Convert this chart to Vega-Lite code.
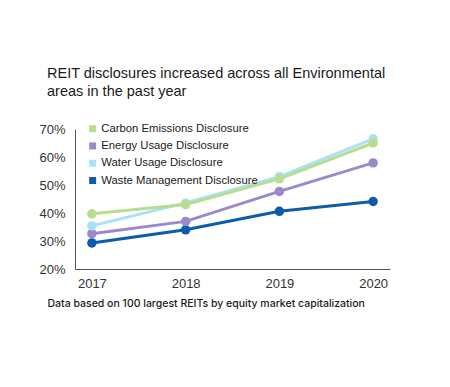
{
  "$schema": "https://vega.github.io/schema/vega-lite/v6.json",
  "width": 315,
  "height": 140,
  "autosize": {"type": "none"},
  "padding": {"left": 75, "top": 129, "right": 60, "bottom": 118},
  "background": "#ffffff",
  "title": {
    "text": ["REIT disclosures increased across all Environmental", "areas in the past year"],
    "anchor": "start",
    "frame": "group",
    "dx": -28,
    "offset": 24,
    "font": "Liberation Sans",
    "fontSize": 14.5,
    "fontWeight": "normal",
    "lineHeight": 18,
    "color": "#1a1a1a"
  },
  "data": {
    "values": [
      {"year": "2017", "series": "Waste Management Disclosure", "pct": 29.3},
      {"year": "2018", "series": "Waste Management Disclosure", "pct": 34.0},
      {"year": "2019", "series": "Waste Management Disclosure", "pct": 40.6},
      {"year": "2020", "series": "Waste Management Disclosure", "pct": 44.1},
      {"year": "2017", "series": "Energy Usage Disclosure", "pct": 32.6},
      {"year": "2018", "series": "Energy Usage Disclosure", "pct": 37.0},
      {"year": "2019", "series": "Energy Usage Disclosure", "pct": 47.7},
      {"year": "2020", "series": "Energy Usage Disclosure", "pct": 57.9},
      {"year": "2017", "series": "Water Usage Disclosure", "pct": 35.4},
      {"year": "2018", "series": "Water Usage Disclosure", "pct": 43.6},
      {"year": "2019", "series": "Water Usage Disclosure", "pct": 53.0},
      {"year": "2020", "series": "Water Usage Disclosure", "pct": 66.5},
      {"year": "2017", "series": "Carbon Emissions Disclosure", "pct": 39.7},
      {"year": "2018", "series": "Carbon Emissions Disclosure", "pct": 43.0},
      {"year": "2019", "series": "Carbon Emissions Disclosure", "pct": 52.2},
      {"year": "2020", "series": "Carbon Emissions Disclosure", "pct": 65.0}
    ]
  },
  "encoding": {
    "x": {
      "field": "year",
      "type": "ordinal",
      "scale": {"type": "point", "padding": 0.18},
      "axis": {
        "title": "Data based on 100 largest REITs by equity market capitalization",
        "titleAnchor": "start",
        "titleAlign": "left",
        "titleX": -28,
        "titleY": 29,
        "titleFont": "Inter",
        "titleFontSize": 10.5,
        "titleFontWeight": 500,
        "titleColor": "#1a1a1a",
        "labelAngle": 0,
        "labelFont": "Liberation Sans",
        "labelFontSize": 13,
        "labelColor": "#333333",
        "labelPadding": 8,
        "ticks": false,
        "domainColor": "#555555",
        "domainWidth": 1,
        "grid": false
      }
    },
    "y": {
      "field": "pct",
      "type": "quantitative",
      "scale": {"domain": [20, 70], "nice": false, "zero": false},
      "axis": {
        "title": null,
        "values": [20, 30, 40, 50, 60, 70],
        "labelExpr": "datum.value + '%'",
        "labelFont": "Liberation Sans",
        "labelFontSize": 13,
        "labelColor": "#333333",
        "labelPadding": 10,
        "ticks": false,
        "domainColor": "#555555",
        "domainWidth": 1,
        "grid": false
      }
    },
    "color": {
      "field": "series",
      "type": "nominal",
      "scale": {
        "domain": ["Carbon Emissions Disclosure", "Energy Usage Disclosure", "Water Usage Disclosure", "Waste Management Disclosure"],
        "range": ["#b8dc90", "#9c89c9", "#a9e1f5", "#0b5cad"]
      },
      "legend": {
        "title": null,
        "orient": "none",
        "legendX": 12,
        "legendY": -6,
        "symbolType": "square",
        "symbolSize": 49,
        "symbolStrokeWidth": 0,
        "labelFont": "Liberation Sans",
        "labelFontSize": 11.3,
        "labelColor": "#1a1a1a",
        "labelLimit": 0,
        "rowPadding": 5.3,
        "labelOffset": 3
      }
    }
  },
  "layer": [
    {
      "transform": [{"filter": "datum.series !== 'Carbon Emissions Disclosure'"}],
      "mark": {"type": "line", "strokeWidth": 3, "point": {"filled": true, "size": 90, "opacity": 1}}
    },
    {
      "transform": [{"filter": "datum.series === 'Carbon Emissions Disclosure'"}],
      "mark": {"type": "line", "strokeWidth": 3, "point": {"filled": true, "size": 90, "opacity": 1}}
    }
  ],
  "config": {"view": {"stroke": null}}
}
